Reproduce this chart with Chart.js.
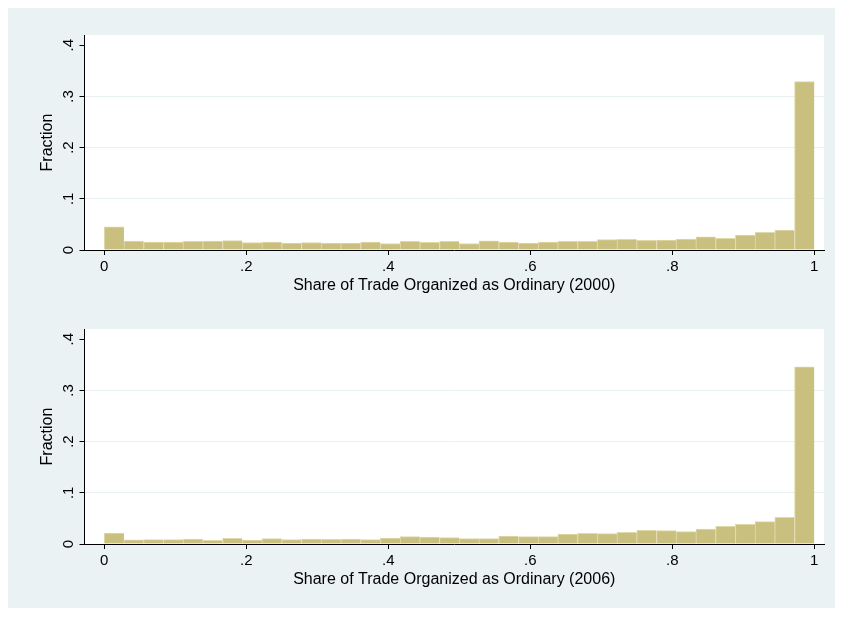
<!DOCTYPE html>
<html>
<head>
<meta charset="utf-8">
<script src="https://cdn.jsdelivr.net/npm/chart.js@4.4.1/dist/chart.umd.min.js"></script>
<style>
  html, body { margin: 0; padding: 0; background: #ffffff; }
  body { width: 843px; height: 619px; position: relative; overflow: hidden; }
  #panel { position: absolute; left: 8px; top: 8px; width: 827px; height: 600px; background: #eaf2f3; }
  .plot { position: absolute; left: 0; width: 827px; height: 294px; }
  #top { top: 0; }
  #bottom { top: 294px; }
</style>
</head>
<body>
<div id="panel">
  <div class="plot" id="top"><canvas id="c2000"></canvas></div>
  <div class="plot" id="bottom"><canvas id="c2006"></canvas></div>
</div>
<script>
// Histogram bins: 36 equal-width bins over [0, 1], given by their centres
const binCenters = [0.01389, 0.04167, 0.06944, 0.09722, 0.12500, 0.15278, 0.18056, 0.20833, 0.23611,
  0.26389, 0.29167, 0.31944, 0.34722, 0.37500, 0.40278, 0.43056, 0.45833, 0.48611,
  0.51389, 0.54167, 0.56944, 0.59722, 0.62500, 0.65278, 0.68056, 0.70833, 0.73611,
  0.76389, 0.79167, 0.81944, 0.84722, 0.87500, 0.90278, 0.93056, 0.95833, 0.98611];

// Fraction of firms in each bin, 2000
const fraction2000 = [0.0452, 0.0176, 0.0157, 0.0157, 0.0170, 0.0173, 0.0182, 0.0147, 0.0157,
  0.0134, 0.0147, 0.0134, 0.0134, 0.0153, 0.0127, 0.0170, 0.0150, 0.0167,
  0.0127, 0.0180, 0.0157, 0.0134, 0.0157, 0.0167, 0.0167, 0.0202, 0.0209,
  0.0189, 0.0196, 0.0215, 0.0255, 0.0229, 0.0290, 0.0343, 0.0391, 0.3290];

// Fraction of firms in each bin, 2006
const fraction2006 = [0.0212, 0.0080, 0.0085, 0.0085, 0.0098, 0.0072, 0.0112, 0.0078, 0.0104,
  0.0085, 0.0098, 0.0091, 0.0095, 0.0085, 0.0117, 0.0143, 0.0137, 0.0124,
  0.0104, 0.0104, 0.0156, 0.0143, 0.0143, 0.0195, 0.0208, 0.0202, 0.0228,
  0.0267, 0.0260, 0.0241, 0.0293, 0.0345, 0.0384, 0.0436, 0.0520, 0.3460];

const xTickValues = [0, 0.2, 0.4, 0.6, 0.8, 1];
const xTickLabels = ['0', '.2', '.4', '.6', '.8', '1'];
const yTickValues = [0, 0.1, 0.2, 0.3, 0.4];
const yTickLabels = ['0', '.1', '.2', '.3', '.4'];

const yTitle = 'Fraction';
const xTitle2000 = 'Share of Trade Organized as Ordinary (2000)';
const xTitle2006 = 'Share of Trade Organized as Ordinary (2006)';

const FONT = 'Liberation Sans, Arial, Helvetica, sans-serif';

// White plot region behind the bars
const plotBackground = {
  id: 'plotBackground',
  beforeDraw(chart) {
    const { ctx, chartArea: a } = chart;
    ctx.save();
    ctx.fillStyle = '#ffffff';
    ctx.fillRect(a.left, a.top, a.right - a.left, a.bottom - a.top);
    ctx.restore();
  }
};

// Vertical y tick labels, reading upward, centred on each tick
const verticalYLabels = {
  id: 'verticalYLabels',
  afterDraw(chart) {
    const { ctx } = chart;
    const y = chart.scales.y;
    ctx.save();
    ctx.fillStyle = '#000000';
    ctx.font = '15px ' + FONT;
    ctx.textAlign = 'center';
    ctx.textBaseline = 'alphabetic';
    yTickValues.forEach((v, i) => {
      const py = y.getPixelForValue(v);
      ctx.save();
      ctx.translate(65, py);
      ctx.rotate(-Math.PI / 2);
      ctx.fillText(yTickLabels[i], 0, 0);
      ctx.restore();
    });
    ctx.restore();
  }
};

function makeHistogram(canvasId, values, xTitle) {
  const points = binCenters.map((c, i) => ({ x: c, y: values[i] }));
  return new Chart(document.getElementById(canvasId), {
    type: 'bar',
    data: {
      datasets: [{
        data: points,
        backgroundColor: '#c9c080',
        borderColor: '#e0d9a8',
        borderWidth: { top: 1, left: 1, right: 0, bottom: 0 },
        borderSkipped: 'start',
        barPercentage: 1,
        categoryPercentage: 1
      }]
    },
    options: {
      responsive: true,
      maintainAspectRatio: false,
      animation: false,
      events: [],
      layout: { padding: { top: 27, right: 11, left: 0, bottom: 0 } },
      plugins: { legend: { display: false }, tooltip: { enabled: false } },
      scales: {
        x: {
          type: 'linear',
          min: -1 / 36,
          max: 1.0137,
          offset: false,
          afterBuildTicks(scale) { scale.ticks = xTickValues.map(v => ({ value: v })); },
          afterFit(scale) { scale.height = 52; },
          ticks: {
            color: '#000000',
            padding: 3,
            maxRotation: 0,
            autoSkip: false,
            font: { family: FONT, size: 15 },
            callback(value) {
              const i = xTickValues.findIndex(t => Math.abs(t - value) < 1e-9);
              return i >= 0 ? xTickLabels[i] : '';
            }
          },
          grid: { offset: false, drawOnChartArea: false, tickLength: 5, tickColor: '#000000', tickWidth: 1 },
          border: { display: true, color: '#000000', width: 1 },
          title: {
            display: true,
            text: xTitle,
            color: '#000000',
            font: { family: FONT, size: 16 },
            padding: { top: 0, bottom: 7 }
          }
        },
        y: {
          min: 0,
          max: 0.42,
          afterBuildTicks(scale) { scale.ticks = yTickValues.map(v => ({ value: v })); },
          afterFit(scale) { scale.width = 76.5; },
          ticks: { display: false },
          grid: {
            offset: false,
            color(ctx) {
              const v = ctx.tick ? ctx.tick.value : 0;
              return (v > 0.001 && v < 0.399) ? '#e8f0f1' : 'rgba(0,0,0,0)';
            },
            lineWidth: 1,
            tickLength: 5,
            tickColor: '#000000',
            tickWidth: 1
          },
          border: { display: true, color: '#000000', width: 1 },
          title: {
            display: true,
            text: yTitle,
            color: '#000000',
            font: { family: FONT, size: 16 },
            padding: { top: 30, bottom: 0 }
          }
        }
      }
    },
    plugins: [plotBackground, verticalYLabels]
  });
}

makeHistogram('c2000', fraction2000, xTitle2000);
makeHistogram('c2006', fraction2006, xTitle2006);
</script>
</body>
</html>
